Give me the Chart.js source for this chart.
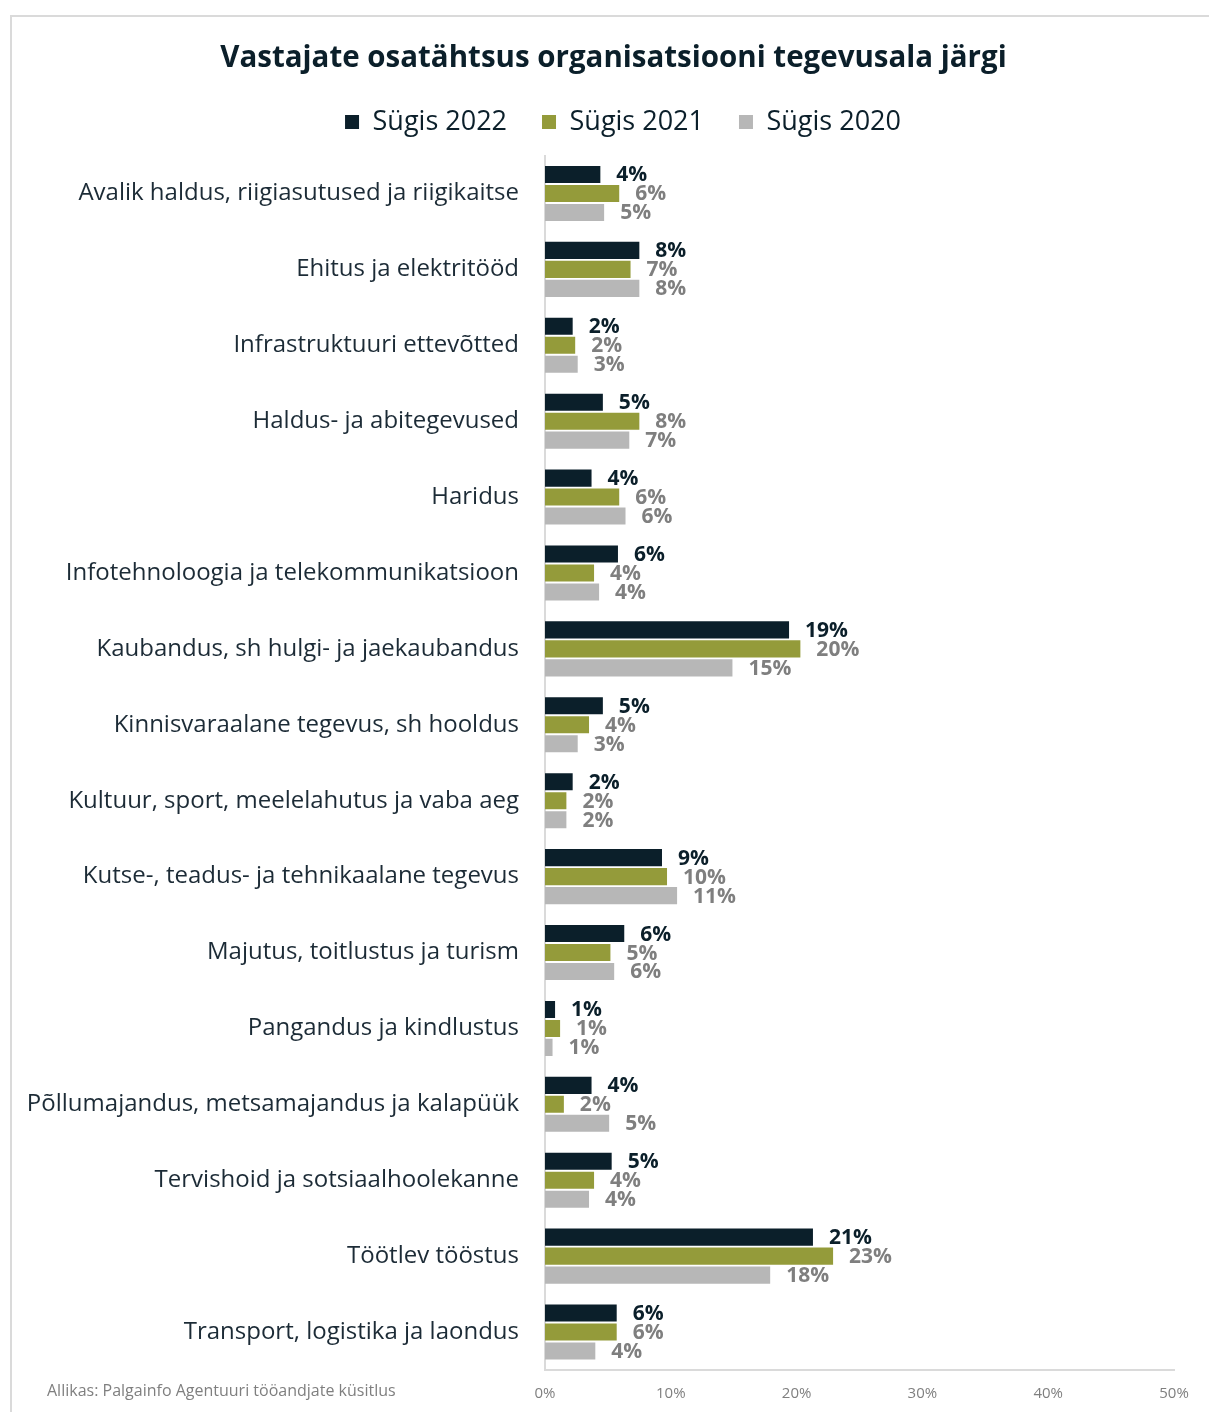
<!DOCTYPE html>
<html>
<head>
<meta charset="utf-8">
<script src="https://cdn.jsdelivr.net/npm/chart.js@4"></script>
<style>
  html, body { margin: 0; padding: 0; background: #fff; overflow: hidden; }
  .frame { position: absolute; left: 10px; top: 15px; width: 1300px; height: 1500px;
           border-top: 2px solid #dadada; border-left: 2px solid #dadada; }
  .wrap { position: absolute; left: 0; top: 0; width: 1209px; height: 1412px; }
  .source { position: absolute; left: 47px; top: 1379px; font: 16px 'Open Sans', sans-serif; color: #7f7f7f; }
</style>
</head>
<body>
<div class="frame"></div>
<div class="wrap"><canvas id="chart"></canvas></div>
<div class="source">Allikas: Palgainfo Agentuuri tööandjate küsitlus</div>
<script>
const categories = [
  'Avalik haldus, riigiasutused ja riigikaitse',
  'Ehitus ja elektritööd',
  'Infrastruktuuri ettevõtted',
  'Haldus- ja abitegevused',
  'Haridus',
  'Infotehnoloogia ja telekommunikatsioon',
  'Kaubandus, sh hulgi- ja jaekaubandus',
  'Kinnisvaraalane tegevus, sh hooldus',
  'Kultuur, sport, meelelahutus ja vaba aeg',
  'Kutse-, teadus- ja tehnikaalane tegevus',
  'Majutus, toitlustus ja turism',
  'Pangandus ja kindlustus',
  'Põllumajandus, metsamajandus ja kalapüük',
  'Tervishoid ja sotsiaalhoolekanne',
  'Töötlev tööstus',
  'Transport, logistika ja laondus'
];
const seriesNames = ['Sügis 2022', 'Sügis 2021', 'Sügis 2020'];
const sugis2022 = [4.4, 7.5, 2.2, 4.6, 3.7, 5.8, 19.4, 4.6, 2.2, 9.3, 6.3, 0.8, 3.7, 5.3, 21.3, 5.7];
const sugis2021 = [5.9, 6.8, 2.4, 7.5, 5.9, 3.9, 20.3, 3.5, 1.7, 9.7, 5.2, 1.2, 1.5, 3.9, 22.9, 5.7];
const sugis2020 = [4.7, 7.5, 2.6, 6.7, 6.4, 4.3, 14.9, 2.6, 1.7, 10.5, 5.5, 0.6, 5.1, 3.5, 17.9, 4.0];
const xTicks = [0, 10, 20, 30, 40, 50];

const colors = ['#0b1f2a', '#949b3a', '#b7b7b7'];
const labelColors = ['#0b1f2a', '#7f7f7f', '#7f7f7f'];

// push the plot area down a bit below the legend
const legendSpacer = {
  id: 'legendSpacer',
  beforeInit(chart) {
    const origFit = chart.legend.fit;
    chart.legend.fit = function () {
      origFit.call(this);
      this.height += 10;
    };
  },
  // keep long y labels unclipped but centre title/legend like the original
  afterLayout(chart) {
    chart.titleBlock.left = 53;
    chart.legend.left = 72;
  }
};

// value labels at the end of each bar
const barValues = {
  id: 'barValues',
  afterDatasetsDraw(chart) {
    const ctx = chart.ctx;
    ctx.save();
    ctx.font = "bold 21px 'Open Sans'";
    ctx.textAlign = 'left';
    ctx.textBaseline = 'middle';
    chart.data.datasets.forEach((ds, i) => {
      const meta = chart.getDatasetMeta(i);
      ctx.fillStyle = labelColors[i];
      meta.data.forEach((bar, j) => {
        ctx.fillText(Math.round(ds.data[j]) + '%', bar.x + 16, bar.y + 1);
      });
    });
    ctx.restore();
  }
};

new Chart(document.getElementById('chart'), {
  type: 'bar',
  data: {
    labels: categories,
    datasets: [sugis2022, sugis2021, sugis2020].map((d, i) => ({
      label: seriesNames[i],
      data: d,
      backgroundColor: colors[i],
      borderWidth: 0,
      categoryPercentage: 0.75,
      barPercentage: 0.9
    }))
  },
  options: {
    indexAxis: 'y',
    responsive: true,
    maintainAspectRatio: false,
    animation: false,
    layout: {
      padding: { left: 14, right: 35, top: 2, bottom: 0 }
    },
    plugins: {
      title: {
        display: true,
        text: 'Vastajate osatähtsus organisatsiooni tegevusala järgi',
        color: '#0b1f2a',
        font: { family: 'Open Sans', size: 29.5, weight: 'bold', lineHeight: 1 },
        padding: { top: 42, bottom: 0 }
      },
      legend: {
        display: true,
        labels: {
          color: '#0b1f2a',
          font: { family: 'Open Sans', size: 27 },
          boxWidth: 14,
          boxHeight: 14,
          padding: 35
        }
      },
      tooltip: { enabled: false }
    },
    scales: {
      x: {
        min: 0,
        max: 50,
        afterBuildTicks(scale) {
          scale.ticks = xTicks.map(v => ({ value: v }));
        },
        afterFit(scale) {
          scale.height = 42;
        },
        grid: { display: false, drawTicks: false },
        border: { display: true, color: '#dadada', width: 2 },
        ticks: {
          padding: 15,
          color: '#7f7f7f',
          font: { family: 'Open Sans', size: 15 },
          callback: v => v + '%'
        }
      },
      y: {
        afterFit(scale) {
          scale.width = 545 - 14;
        },
        grid: { display: false, drawTicks: false },
        border: { display: true, color: '#dadada', width: 2 },
        ticks: {
          padding: 26,
          color: '#1c2b36',
          font: { family: 'Open Sans', size: 24 }
        }
      }
    }
  },
  plugins: [legendSpacer, barValues]
});
</script>
</body>
</html>
